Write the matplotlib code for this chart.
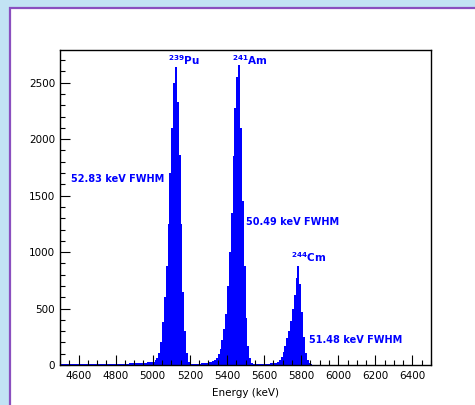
import numpy as np
import matplotlib
matplotlib.use('Agg')
import matplotlib.pyplot as plt
from matplotlib.patches import Rectangle
from matplotlib.ticker import MultipleLocator

plt.rcParams['font.family'] = 'DejaVu Sans'
plt.rcParams['mathtext.fontset'] = 'custom'
plt.rcParams['mathtext.bf'] = 'DejaVu Sans:bold'
plt.rcParams['mathtext.rm'] = 'DejaVu Sans'

# histogram: 10 keV bins from 4500 to 5900 keV
bin_start = 4500
bin_width = 10
counts = [
    6, 6, 7, 6, 7, 7, 6, 8, 7, 7,                     # 4500
    7, 8, 7, 8, 8, 7, 8, 9, 8, 8,                     # 4600
    8, 9, 9, 8, 9, 10, 9, 10, 10, 11,                 # 4700
    10, 11, 11, 12, 12, 13, 13, 14, 15, 15,           # 4800
    16, 17, 18, 19, 20, 21, 22, 24, 26, 28,           # 4900
    30, 40, 60, 110, 200, 384, 600, 880, 1250, 1700,  # 5000
    2100, 2500, 2640, 2330, 1860, 1250, 650, 300, 110, 25,  # 5100
    12, 10, 10, 11, 12, 13, 14, 16, 18, 20,           # 5200
    25, 30, 38, 48, 65, 95, 140, 220, 320, 450,       # 5300
    700, 1000, 1350, 1850, 2280, 2550, 2660, 2100, 1450, 880,  # 5400
    420, 170, 60, 20, 12, 10, 10, 10, 11, 11,         # 5500
    12, 12, 13, 14, 15, 18, 22, 30, 45, 75,           # 5600
    115, 170, 235, 300, 390, 500, 620, 770, 880, 720,  # 5700
    470, 250, 110, 40, 15, 5, 2, 0, 0, 0,             # 5800
]
edges = bin_start + bin_width * np.arange(len(counts) + 1)

# annotations (text, energy, counts)
fwhm_labels = ['52.83 keV FWHM', '50.49 keV FWHM', '51.48 keV FWHM']
fwhm_x = [4560, 5505, 5840]
fwhm_y = [1650, 1270, 220]
iso_labels = [r'$\mathbf{^{239}Pu}$', r'$\mathbf{^{241}Am}$', r'$\mathbf{^{244}Cm}$']
iso_x = [5080, 5425, 5745]
iso_y = [2700, 2700, 960]

blue = '#0000ff'

fig = plt.figure(figsize=(4.75, 4.05), dpi=100)
fig.patch.set_facecolor('#c2e3f4')
# white pad with purple frame, behind the axes
fig.patches.append(Rectangle((10 / 475, -0.05), 1.1, 1.05 - 8 / 405,
                             transform=fig.transFigure, facecolor='white',
                             edgecolor='#8a4fbf', linewidth=1.6, zorder=-5))

ax = fig.add_axes([60 / 475, 40 / 405, 371 / 475, 315 / 405])
ax.stairs(counts, edges, fill=True, color=blue, linewidth=0)

ax.set_xlim(4500, 6500)
ax.set_ylim(0, 2790)
ax.xaxis.set_major_locator(MultipleLocator(200))
ax.xaxis.set_minor_locator(MultipleLocator(50))
ax.yaxis.set_major_locator(MultipleLocator(500))
ax.yaxis.set_minor_locator(MultipleLocator(100))
ax.tick_params(which='both', direction='in', labelsize=7.5, top=False, right=False)
ax.tick_params(which='major', length=7, width=0.8)
ax.tick_params(which='minor', length=3.5, width=0.8)
ax.tick_params(axis='x', pad=4)
for sp in ax.spines.values():
    sp.set_linewidth(1.0)

ax.set_xlabel('Energy (keV)', fontsize=7.5, labelpad=5)

for t, x, y in zip(fwhm_labels, fwhm_x, fwhm_y):
    ax.text(x, y, t, color=blue, fontsize=7, fontweight='bold', va='center')
for t, x, y in zip(iso_labels, iso_x, iso_y):
    ax.text(x, y, t, color=blue, fontsize=7.5, va='center')

fig.savefig('out.png', dpi=100, facecolor=fig.get_facecolor())
